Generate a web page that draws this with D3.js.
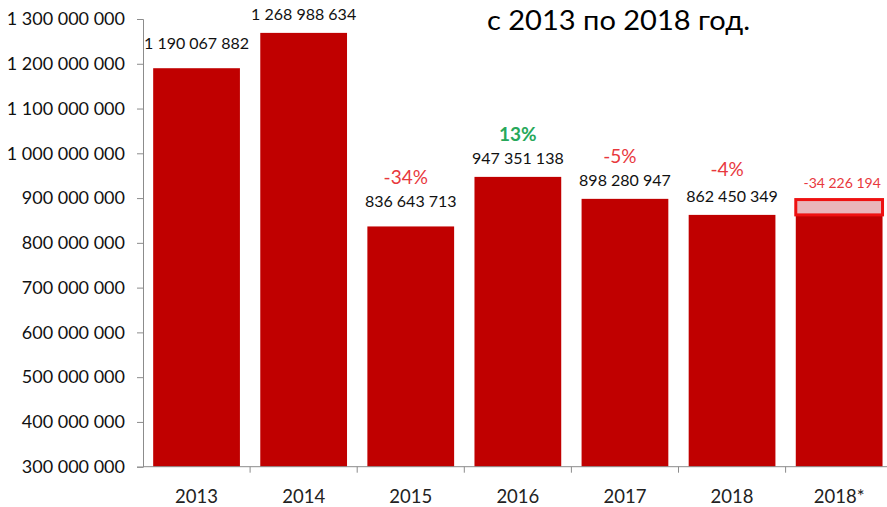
<!DOCTYPE html>
<html>
<head>
<meta charset="utf-8">
<script src="https://cdn.jsdelivr.net/npm/d3@7"></script>
<style>
  html, body { margin: 0; padding: 0; background: #fff; }
  svg { display: block; font-family: Lato, "Open Sans", sans-serif; }
</style>
</head>
<body>
<svg id="chart" width="887" height="507"></svg>
<script>
// Annual totals, 2013–2018
const years = ["2013", "2014", "2015", "2016", "2017", "2018", "2018*"];
const totals = [1190067882, 1268988634, 836643713, 947351138, 898280947, 862450349, 862450349];
// Year-on-year change, percent (null where no label is shown)
const changes = [null, null, -34, 13, -5, -4, null];
// Shortfall drawn on top of the last column
const shortfallYear = "2018*";
const shortfall = 34226194;
const yTicks = [300e6, 400e6, 500e6, 600e6, 700e6, 800e6, 900e6, 1000e6, 1100e6, 1200e6, 1300e6];
const title = "с 2013 по 2018 год.";

// Layout
const W = 887, H = 507;
const plotLeft = 143, plotTop = 19, plotBottom = 466.7;
const step = 107.1;
const labelLift = { "2013": 19, "2015": 19 };   // labels raised above the default offset
const pctLift = { "2018": 26 };

const svg = d3.select("#chart");

const x = d3.scaleBand()
  .domain(years)
  .range([plotLeft, plotLeft + step * years.length])
  .paddingInner(0.19)
  .paddingOuter(0.095);

const y = d3.scaleLinear()
  .domain([300e6, 1300e6])
  .range([plotBottom, plotTop]);

// Space-grouped thousands, plain hyphen for negatives
const fmt = v => (v < 0 ? "-" : "") + d3.format(",")(Math.abs(v)).replace(/,/g, " ");
const axisColor = "#8c8c8c";

// Bars
const rows = years.map((yr, i) => ({ yr, v: totals[i], ch: changes[i] }));
svg.append("g").selectAll("rect")
  .data(rows)
  .join("rect")
  .attr("x", d => x(d.yr))
  .attr("width", x.bandwidth())
  .attr("y", d => y(d.v))
  .attr("height", d => plotBottom - y(d.v))
  .attr("fill", "#c00000");

// Shortfall box on the last column
const base = totals[years.indexOf(shortfallYear)];
svg.append("rect")
  .attr("x", x(shortfallYear))
  .attr("width", x.bandwidth())
  .attr("y", y(base + shortfall))
  .attr("height", y(base) - y(base + shortfall))
  .attr("fill", "#e9b5ba")
  .attr("stroke", "#ee1111")
  .attr("stroke-width", 3);

// Y axis
const yAxis = svg.append("g")
  .attr("transform", `translate(${plotLeft},0)`)
  .call(d3.axisLeft(y).tickValues(yTicks).tickFormat(fmt).tickSize(6).tickPadding(12));
yAxis.select(".domain").attr("stroke", axisColor);
yAxis.selectAll(".tick line").attr("stroke", axisColor);
yAxis.selectAll(".tick text")
  .attr("fill", "#111")
  .style("font-size", "18px")
  .style("font-family", "Lato, sans-serif");

// X axis: baseline with separators between columns
svg.append("line")
  .attr("x1", plotLeft).attr("x2", W)
  .attr("y1", plotBottom).attr("y2", plotBottom)
  .attr("stroke", axisColor);
svg.append("g").selectAll("line")
  .data(years.slice(1))
  .join("line")
  .attr("x1", d => x(d) - x.step() * x.paddingInner() / 2)
  .attr("x2", d => x(d) - x.step() * x.paddingInner() / 2)
  .attr("y1", plotBottom)
  .attr("y2", plotBottom + 6)
  .attr("stroke", axisColor);
svg.append("g").selectAll("text")
  .data(years)
  .join("text")
  .attr("x", d => x(d) + x.bandwidth() / 2)
  .attr("y", 503)
  .attr("text-anchor", "middle")
  .attr("fill", "#222")
  .style("font-size", "18.5px")
  .text(d => d);

// Value labels
svg.append("g").selectAll("text")
  .data(rows.filter(d => d.yr !== shortfallYear))
  .join("text")
  .attr("x", d => x(d.yr) + x.bandwidth() / 2)
  .attr("y", d => y(d.v) - (labelLift[d.yr] || 12.5))
  .attr("text-anchor", "middle")
  .attr("fill", "#111")
  .style("font-size", "16px")
  .text(d => fmt(d.v));

// Percent change labels
svg.append("g").selectAll("text")
  .data(rows.filter(d => d.ch !== null))
  .join("text")
  .attr("x", d => x(d.yr) + x.bandwidth() / 2 - (d.ch < 0 ? 5 : 0))
  .attr("y", d => y(d.v) - (labelLift[d.yr] || 12.5) - (pctLift[d.yr] || 23))
  .attr("text-anchor", "middle")
  .attr("fill", d => d.ch < 0 ? "#e8383d" : "#27a85a")
  .style("font-size", "19px")
  .style("font-weight", d => d.ch > 0 ? "bold" : "normal")
  .text(d => d.ch + "%");

// Shortfall label
svg.append("text")
  .attr("x", x(shortfallYear) + x.bandwidth() / 2 + 3)
  .attr("y", y(base + shortfall) - 11.3)
  .attr("text-anchor", "middle")
  .attr("fill", "#e8383d")
  .style("font-size", "14px")
  .text(fmt(-shortfall));

// Title
svg.append("text")
  .attr("x", 487)
  .attr("y", 29.5)
  .attr("fill", "#000")
  .attr("textLength", 263)
  .attr("lengthAdjust", "spacingAndGlyphs")
  .style("font-size", "27px")
  .text(title);
</script>
</body>
</html>
